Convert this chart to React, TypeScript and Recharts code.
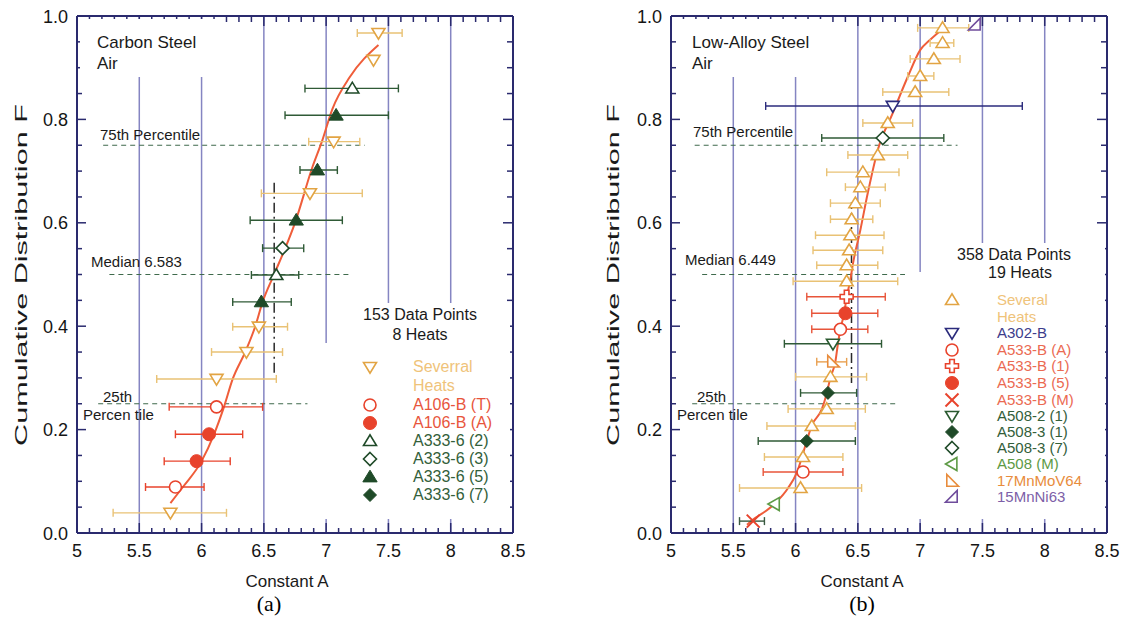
import React from "react";
import { ComposedChart, XAxis, YAxis, Scatter, ErrorBar, Line, ReferenceLine } from "recharts";

type Pt = { x: number; y: number; lo?: number; hi?: number };
type Kind =
  | "triDown" | "triUp" | "triUpF" | "circle" | "circleF" | "diamond" | "diamondF"
  | "plus" | "cross" | "triLeft" | "rtL" | "rtR";

const NAVY = "#2a2a6e";
const GRID = "#8585c2";
const DASH = "#3f6a4c";
const CURVE = "#ef5d3a";
const FONT = '"Liberation Sans", Arial, Helvetica, sans-serif';

// axis ticks / labels
const xMajor = [5, 5.5, 6, 6.5, 7, 7.5, 8, 8.5];
const xMajorLabels = ["5", "5.5", "6", "6.5", "7", "7.5", "8", "8.5"];
const yMajor = [0, 0.2, 0.4, 0.6, 0.8, 1.0];
const yMajorLabels = ["0.0", "0.2", "0.4", "0.6", "0.8", "1.0"];
const gridX = [5.5, 6, 6.5, 7, 7.5, 8];
const xTicks = Array.from({ length: 36 }, (_, i) => (50 + i) / 10);
const yTicks = Array.from({ length: 21 }, (_, i) => i / 20);

// ---- (a) carbon steel, air
const severalA: Pt[] = [
  { x: 7.42, y: 0.967, lo: 7.25, hi: 7.61 },
  { x: 7.38, y: 0.915 },
  { x: 7.06, y: 0.757, lo: 6.86, hi: 7.27 },
  { x: 6.87, y: 0.657, lo: 6.48, hi: 7.29 },
  { x: 6.46, y: 0.399, lo: 6.25, hi: 6.69 },
  { x: 6.36, y: 0.35, lo: 6.08, hi: 6.65 },
  { x: 6.12, y: 0.298, lo: 5.64, hi: 6.6 },
  { x: 5.75, y: 0.039, lo: 5.29, hi: 6.2 },
];
const a106T: Pt[] = [
  { x: 6.12, y: 0.244, lo: 5.74, hi: 6.49 },
  { x: 5.79, y: 0.089, lo: 5.55, hi: 6.02 },
];
const a106A: Pt[] = [
  { x: 6.06, y: 0.191, lo: 5.79, hi: 6.33 },
  { x: 5.96, y: 0.139, lo: 5.7, hi: 6.23 },
];
const a333_2: Pt[] = [
  { x: 7.21, y: 0.86, lo: 6.83, hi: 7.58 },
  { x: 6.6, y: 0.499, lo: 6.4, hi: 6.78 },
];
const a333_3: Pt[] = [{ x: 6.65, y: 0.551, lo: 6.49, hi: 6.82 }];
const a333_5: Pt[] = [
  { x: 7.08, y: 0.808, lo: 6.67, hi: 7.5 },
  { x: 6.93, y: 0.702, lo: 6.79, hi: 7.09 },
  { x: 6.76, y: 0.605, lo: 6.39, hi: 7.13 },
  { x: 6.48, y: 0.447, lo: 6.25, hi: 6.72 },
];
const a333_7: Pt[] = [];
const fitA: Pt[] = [
  { x: 5.75, y: 0.058 }, { x: 5.85, y: 0.089 }, { x: 6.0, y: 0.139 }, { x: 6.1, y: 0.191 },
  { x: 6.18, y: 0.244 }, { x: 6.25, y: 0.298 }, { x: 6.35, y: 0.35 }, { x: 6.43, y: 0.399 },
  { x: 6.49, y: 0.447 }, { x: 6.58, y: 0.499 }, { x: 6.67, y: 0.55 }, { x: 6.75, y: 0.6 },
  { x: 6.89, y: 0.708 }, { x: 6.97, y: 0.76 }, { x: 7.05, y: 0.82 }, { x: 7.19, y: 0.882 },
  { x: 7.42, y: 0.944 },
];
const pctA = [
  { y: 0.75, from: 5.21, to: 7.31 },
  { y: 0.5, from: 5.26, to: 7.19 },
  { y: 0.25, from: 5.17, to: 6.85 },
];
const medianA = { x: 6.583, from: 0.31, to: 0.68 };

// ---- (b) low-alloy steel, air
const severalB: Pt[] = [
  { x: 7.18, y: 0.977, lo: 6.98, hi: 7.39 },
  { x: 7.18, y: 0.948, lo: 7.08, hi: 7.27 },
  { x: 7.11, y: 0.917, lo: 6.92, hi: 7.32 },
  { x: 7.0, y: 0.884, lo: 6.9, hi: 7.11 },
  { x: 6.96, y: 0.853, lo: 6.7, hi: 7.23 },
  { x: 6.74, y: 0.793, lo: 6.54, hi: 6.94 },
  { x: 6.66, y: 0.731, lo: 6.42, hi: 6.9 },
  { x: 6.54, y: 0.698, lo: 6.25, hi: 6.83 },
  { x: 6.52, y: 0.669, lo: 6.4, hi: 6.72 },
  { x: 6.48, y: 0.638, lo: 6.28, hi: 6.68 },
  { x: 6.45, y: 0.607, lo: 6.28, hi: 6.62 },
  { x: 6.44, y: 0.576, lo: 6.16, hi: 6.71 },
  { x: 6.43, y: 0.547, lo: 6.14, hi: 6.7 },
  { x: 6.41, y: 0.518, lo: 6.17, hi: 6.66 },
  { x: 6.41, y: 0.487, lo: 5.98, hi: 6.82 },
  { x: 6.28, y: 0.302, lo: 6.0, hi: 6.57 },
  { x: 6.25, y: 0.24, lo: 5.94, hi: 6.56 },
  { x: 6.13, y: 0.207, lo: 5.77, hi: 6.48 },
  { x: 6.06, y: 0.147, lo: 5.75, hi: 6.38 },
  { x: 6.04, y: 0.087, lo: 5.55, hi: 6.53 },
];
const a302B: Pt[] = [{ x: 6.78, y: 0.826, lo: 5.76, hi: 7.82 }];
const a533A: Pt[] = [
  { x: 6.36, y: 0.394, lo: 6.13, hi: 6.58 },
  { x: 6.06, y: 0.118, lo: 5.74, hi: 6.38 },
];
const a533_1: Pt[] = [{ x: 6.41, y: 0.457, lo: 6.09, hi: 6.72 }];
const a533_5: Pt[] = [{ x: 6.4, y: 0.425, lo: 6.13, hi: 6.66 }];
const a533M: Pt[] = [{ x: 5.66, y: 0.023, lo: 5.55, hi: 5.75 }];
const a508_2_1: Pt[] = [{ x: 6.3, y: 0.366, lo: 5.91, hi: 6.69 }];
const a508_3_1: Pt[] = [
  { x: 6.26, y: 0.271, lo: 6.04, hi: 6.49 },
  { x: 6.09, y: 0.178, lo: 5.7, hi: 6.48 },
];
const a508_3_7: Pt[] = [{ x: 6.7, y: 0.764, lo: 6.21, hi: 7.19 }];
const a508M: Pt[] = [{ x: 5.83, y: 0.056 }];
const mn17: Pt[] = [{ x: 6.3, y: 0.331, lo: 6.17, hi: 6.41 }];
const mn15: Pt[] = [{ x: 7.44, y: 0.983 }];
const fitB: Pt[] = [
  { x: 5.61, y: 0.016 }, { x: 5.65, y: 0.024 }, { x: 5.83, y: 0.056 }, { x: 5.94, y: 0.087 },
  { x: 6.01, y: 0.117 }, { x: 6.09, y: 0.178 }, { x: 6.13, y: 0.208 }, { x: 6.21, y: 0.239 },
  { x: 6.25, y: 0.27 }, { x: 6.28, y: 0.301 }, { x: 6.32, y: 0.332 }, { x: 6.34, y: 0.366 },
  { x: 6.36, y: 0.394 }, { x: 6.39, y: 0.425 }, { x: 6.41, y: 0.456 }, { x: 6.44, y: 0.49 },
  { x: 6.46, y: 0.52 }, { x: 6.52, y: 0.586 }, { x: 6.58, y: 0.658 }, { x: 6.66, y: 0.741 },
  { x: 6.78, y: 0.812 }, { x: 6.9, y: 0.882 }, { x: 7.0, y: 0.934 }, { x: 7.08, y: 0.954 },
  { x: 7.19, y: 0.977 },
];
const pctB = [
  { y: 0.75, from: 5.19, to: 7.3 },
  { y: 0.5, from: 5.25, to: 7.18 },
  { y: 0.25, from: 5.17, to: 6.82 },
];
const medianB = { x: 6.449, from: 0.29, to: 0.64 };

type Series = { name: string; sub?: string; data: Pt[]; kind: Kind; color: string; err?: string; text: string };

const YEL = "#e2a443";
const YEL_ERR = "#e9c275";
const YEL_TXT = "#efc37a";
const RED = "#e8432c";
const GRN = "#1f4a28";
const GRN_TXT = "#33603a";

const seriesA: Series[] = [
  { name: "Severral", sub: "Heats", data: severalA, kind: "triDown", color: YEL, err: YEL_ERR, text: YEL_TXT },
  { name: "A106-B (T)", data: a106T, kind: "circle", color: RED, text: "#e8553c" },
  { name: "A106-B (A)", data: a106A, kind: "circleF", color: RED, text: "#e8553c" },
  { name: "A333-6 (2)", data: a333_2, kind: "triUp", color: GRN, err: "#2f5a36", text: GRN_TXT },
  { name: "A333-6 (3)", data: a333_3, kind: "diamond", color: GRN, err: "#2f5a36", text: GRN_TXT },
  { name: "A333-6 (5)", data: a333_5, kind: "triUpF", color: GRN, err: "#2f5a36", text: GRN_TXT },
  { name: "A333-6 (7)", data: a333_7, kind: "diamondF", color: GRN, text: GRN_TXT },
];

const seriesB: Series[] = [
  { name: "Several", sub: "Heats", data: severalB, kind: "triUp", color: YEL, err: YEL_ERR, text: YEL_TXT },
  { name: "A302-B", data: a302B, kind: "triDown", color: "#2b2b7c", text: "#3d3d8c" },
  { name: "A533-B (A)", data: a533A, kind: "circle", color: RED, err: "#e8553a", text: "#eb6a52" },
  { name: "A533-B (1)", data: a533_1, kind: "plus", color: RED, err: "#e8553a", text: "#eb6a52" },
  { name: "A533-B (5)", data: a533_5, kind: "circleF", color: RED, err: "#e8553a", text: "#eb6a52" },
  { name: "A533-B (M)", data: a533M, kind: "cross", color: RED, err: "#3a5a40", text: "#eb6a52" },
  { name: "A508-2 (1)", data: a508_2_1, kind: "triDown", color: "#2a5a30", err: "#2f5a36", text: GRN_TXT },
  { name: "A508-3 (1)", data: a508_3_1, kind: "diamondF", color: GRN, err: "#2f5a36", text: GRN_TXT },
  { name: "A508-3 (7)", data: a508_3_7, kind: "diamond", color: GRN, err: "#2f5a36", text: GRN_TXT },
  { name: "A508 (M)", data: a508M, kind: "triLeft", color: "#5d9a45", text: "#5d9a45" },
  { name: "17MnMoV64", data: mn17, kind: "rtL", color: "#e88c3c", err: "#e8a050", text: "#e88c3c" },
  { name: "15MnNi63", data: mn15, kind: "rtR", color: "#6f4c9c", text: "#7d5fa8" },
];

function Mark({ cx, cy, kind, color }: { cx: number; cy: number; kind: Kind; color: string }) {
  const s = 6.5;
  const open = { fill: "#fff", stroke: color, strokeWidth: 1.6 };
  const solid = { fill: color, stroke: color, strokeWidth: 1 };
  const poly = (pts: number[][], st: any) => (
    <polygon points={pts.map((p) => `${cx + p[0]},${cy + p[1]}`).join(" ")} {...st} />
  );
  switch (kind) {
    case "triDown":
      return poly([[-s, -s * 0.7], [s, -s * 0.7], [0, s * 0.95]], open);
    case "triUp":
      return poly([[-s, s * 0.7], [s, s * 0.7], [0, -s * 0.95]], open);
    case "triUpF":
      return poly([[-s * 1.1, s * 0.75], [s * 1.1, s * 0.75], [0, -s * 1.05]], solid);
    case "circle":
      return <circle cx={cx} cy={cy} r={s - 0.5} {...open} />;
    case "circleF":
      return <circle cx={cx} cy={cy} r={s} {...solid} />;
    case "diamond":
      return poly([[0, -s], [s, 0], [0, s], [-s, 0]], open);
    case "diamondF":
      return poly([[0, -s], [s, 0], [0, s], [-s, 0]], solid);
    case "plus": {
      const a = 2.3;
      return poly(
        [[-a, -s], [a, -s], [a, -a], [s, -a], [s, a], [a, a], [a, s], [-a, s], [-a, a], [-s, a], [-s, -a], [-a, -a]],
        open
      );
    }
    case "cross":
      return (
        <g stroke={color} strokeWidth={2}>
          <line x1={cx - s} y1={cy - s} x2={cx + s} y2={cy + s} />
          <line x1={cx - s} y1={cy + s} x2={cx + s} y2={cy - s} />
        </g>
      );
    case "triLeft":
      return poly([[s * 0.75, -s], [s * 0.75, s], [-s, 0]], open);
    case "rtL":
      return poly([[-s * 0.8, -s], [-s * 0.8, s * 0.8], [s, s * 0.8]], open);
    case "rtR":
      return poly([[s * 0.8, -s], [s * 0.8, s * 0.8], [-s, s * 0.8]], open);
  }
  return null;
}

const near = (a: number, b: number) => Math.abs(a - b) < 1e-6;
const isHalf = (v: number) => near(v * 2, Math.round(v * 2));
const xLabel = (v: number) => {
  const i = xMajor.findIndex((m) => near(m, v));
  return i < 0 ? null : xMajorLabels[i];
};
const yLabel = (v: number) => {
  const i = yMajor.findIndex((m) => near(m, v));
  return i < 0 ? null : yMajorLabels[i];
};

const BottomTick = ({ x, y, payload }: any) => {
  const lab = xLabel(payload.value);
  return (
    <g>
      <line x1={x} x2={x} y1={y} y2={y - (isHalf(payload.value) ? 10 : 5)} stroke={NAVY} strokeWidth={1.5} />
      {lab && (
        <text x={x} y={y + 24} textAnchor="middle" fontSize={18} fill="#151515" fontFamily={FONT}>
          {lab}
        </text>
      )}
    </g>
  );
};
const TopTick = ({ x, y, payload }: any) => (
  <line x1={x} x2={x} y1={y} y2={y + (isHalf(payload.value) ? 10 : 6)} stroke={NAVY} strokeWidth={1.5} />
);
const LeftTick = ({ x, y, payload }: any) => {
  const lab = yLabel(payload.value);
  return (
    <g>
      <line x1={x} x2={x + (lab ? 9 : 5)} y1={y} y2={y} stroke={NAVY} strokeWidth={1.5} />
      {lab && (
        <text x={x - 9} y={y + 6.5} textAnchor="end" fontSize={18} fill="#151515" fontFamily={FONT}>
          {lab}
        </text>
      )}
    </g>
  );
};
const RightTick = ({ x, y, payload }: any) => (
  <line x1={x} x2={x - (yLabel(payload.value) ? 10 : 6)} y1={y} y2={y} stroke={NAVY} strokeWidth={1.5} />
);

const withErr = (arr: Pt[]) =>
  arr.map((p) => ({ ...p, ex: p.lo != null && p.hi != null ? [p.x - p.lo, p.hi - p.x] : undefined }));

const axisLine = { stroke: NAVY, strokeWidth: 2 };

function Panel({ left, ml, mr, series, fit, pct, median }: any) {
  return (
    <div style={{ position: "absolute", left, top: 0 }}>
      <ComposedChart width={564} height={600} margin={{ top: 15, bottom: 66, left: ml - 1, right: mr - 1 }}>
        <XAxis xAxisId="b" dataKey="x" type="number" domain={[5, 8.5]} allowDataOverflow ticks={xTicks}
          interval={0} height={1} tickSize={0} tickMargin={0} tickLine={false} axisLine={axisLine} tick={BottomTick} />
        <XAxis xAxisId="t" orientation="top" dataKey="x" type="number" domain={[5, 8.5]} allowDataOverflow ticks={xTicks}
          interval={0} height={1} tickSize={0} tickMargin={0} tickLine={false} axisLine={axisLine} tick={TopTick} />
        <YAxis yAxisId="l" dataKey="y" type="number" domain={[0, 1]} allowDataOverflow ticks={yTicks}
          interval={0} width={1} tickSize={0} tickMargin={0} tickLine={false} axisLine={axisLine} tick={LeftTick} />
        <YAxis yAxisId="r" orientation="right" dataKey="y" type="number" domain={[0, 1]} allowDataOverflow ticks={yTicks}
          interval={0} width={1} tickSize={0} tickMargin={0} tickLine={false} axisLine={axisLine} tick={RightTick} />
        {gridX.map((v) => (
          <ReferenceLine key={"g" + v} xAxisId="b" yAxisId="l" x={v} stroke={GRID} strokeWidth={1.5} />
        ))}
        {pct.map((p: any) => (
          <ReferenceLine key={"p" + p.y} xAxisId="b" yAxisId="l" segment={[{ x: p.from, y: p.y }, { x: p.to, y: p.y }]}
            stroke={DASH} strokeWidth={1.2} strokeDasharray="5 4" />
        ))}
        <ReferenceLine xAxisId="b" yAxisId="l" segment={[{ x: median.x, y: median.from }, { x: median.x, y: median.to }]}
          stroke="#2a2a2a" strokeWidth={1.5} strokeDasharray="10 4 2 4" />
        <Line data={fit} dataKey="y" xAxisId="b" yAxisId="l" type="monotone" stroke={CURVE} strokeWidth={2}
          dot={false} isAnimationActive={false} />
        {series
          .filter((s: Series) => s.data.length > 0)
          .map((s: Series) => (
            <Scatter key={s.name} name={s.name} data={withErr(s.data)} dataKey="y" xAxisId="b" yAxisId="l"
              isAnimationActive={false}
              shape={(p: any) => <Mark cx={p.cx} cy={p.cy} kind={s.kind} color={s.color} />}>
              <ErrorBar dataKey="ex" direction="x" width={4} stroke={s.err ?? s.color} strokeWidth={1.4} />
            </Scatter>
          ))}
      </ComposedChart>
    </div>
  );
}

const Txt = ({ x, y, size = 15, color = "#1a1a1a", center = false, children }: any) => (
  <div style={{
    position: "absolute", left: x, top: y - size * 0.6, fontSize: size, lineHeight: `${size * 1.2}px`,
    color, whiteSpace: "nowrap", transform: center ? "translateX(-50%)" : undefined,
  }}>{children}</div>
);

const Box = ({ x, y, w, h }: any) => (
  <div style={{ position: "absolute", left: x, top: y, width: w, height: h, background: "#fff" }} />
);

function LegendRows({ series, sx, tx, rows, size }: any) {
  const out: any[] = [];
  let r = 0;
  series.forEach((s: Series) => {
    out.push(
      <svg key={s.name + "m"} width={18} height={18} style={{ position: "absolute", left: sx - 9, top: rows[r] - 9 }}>
        <Mark cx={9} cy={9} kind={s.kind} color={s.color} />
      </svg>
    );
    out.push(<Txt key={s.name} x={tx} y={rows[r]} size={size} color={s.text}>{s.name}</Txt>);
    r++;
    if (s.sub) {
      out.push(<Txt key={s.name + "s"} x={tx} y={rows[r]} size={size} color={s.text}>{s.sub}</Txt>);
      r++;
    }
  });
  return <>{out}</>;
}

const rowsA = [367, 386, 405, 423, 441, 459, 477, 495];
const rowsB = [300, 317, 333, 350, 366, 383, 400, 416, 432, 448, 464, 481, 497];

export default function App() {
  return (
    <div style={{ position: "absolute", left: 0, top: 0, width: 1128, height: 638, background: "#fff", fontFamily: FONT, overflow: "hidden" }}>
      <Panel left={0} ml={77} mr={51} series={seriesA} fit={fitA} pct={pctA} median={medianA} />
      <Panel left={564} ml={107} mr={21} series={seriesB} fit={fitB} pct={pctB} median={medianB} />

      {/* panel (a) annotations */}
      <Box x={80} y={19} w={135} h={58} />
      <Txt x={97} y={43} size={17}>Carbon Steel</Txt>
      <Txt x={97} y={64} size={17}>Air</Txt>
      <Txt x={100} y={135}>75th Percentile</Txt>
      <Txt x={91} y={262}>Median 6.583</Txt>
      <Txt x={103} y={397}>25th</Txt>
      <Txt x={83} y={415}>Percen tile</Txt>
      <Box x={335} y={303} w={175} h={42} />
      <Box x={320} y={343} w={190} h={176} />
      <Txt x={420} y={315} size={16} center>153 Data Points</Txt>
      <Txt x={420} y={335} size={16} center>8 Heats</Txt>
      <LegendRows series={seriesA} sx={370} tx={413} rows={rowsA} size={16} />

      {/* panel (b) annotations */}
      <Box x={680} y={19} w={145} h={58} />
      <Txt x={692} y={43} size={17}>Low-Alloy Steel</Txt>
      <Txt x={692} y={64} size={17}>Air</Txt>
      <Txt x={693} y={132}>75th Percentile</Txt>
      <Txt x={685} y={260}>Median 6.449</Txt>
      <Txt x={697} y={397}>25th</Txt>
      <Txt x={677} y={415}>Percen tile</Txt>
      <Box x={935} y={243} w={170} h={30} />
      <Box x={905} y={272} w={200} h={247} />
      <Txt x={1014} y={255} size={16} center>358 Data Points</Txt>
      <Txt x={1020} y={273} size={16} center>19 Heats</Txt>
      <LegendRows series={seriesB} sx={952} tx={997} rows={rowsB} size={15} />

      {/* axis titles */}
      {[22, 614].map((cx) => (
        <div key={cx} style={{ position: "absolute", left: cx - 150, top: 275 - 10, width: 300, height: 20, lineHeight: "20px",
          textAlign: "center", fontSize: 17, color: "#1a1a1a", transform: "rotate(-90deg) scaleX(1.8)" }}>
          Cumulative Distribution F
        </div>
      ))}
      <Txt x={287} y={582} size={17} center>Constant A</Txt>
      <Txt x={862} y={582} size={17} center>Constant A</Txt>
      <div style={{ position: "absolute", left: 269, top: 604 - 13, transform: "translateX(-50%)", fontFamily: '"Liberation Serif", "Times New Roman", serif', fontSize: 22, lineHeight: "26px" }}>(a)</div>
      <div style={{ position: "absolute", left: 862, top: 604 - 13, transform: "translateX(-50%)", fontFamily: '"Liberation Serif", "Times New Roman", serif', fontSize: 22, lineHeight: "26px" }}>(b)</div>
    </div>
  );
}
